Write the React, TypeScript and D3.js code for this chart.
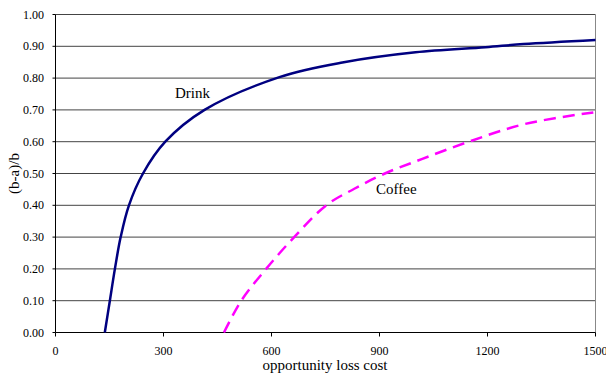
import * as d3 from 'd3';
import React from 'react';

// values
const drinkCost = [137, 151, 165, 181, 204, 243, 305, 414, 622, 797, 1000, 1194, 1300, 1500];
const drinkRatio = [0, 0.1, 0.2, 0.3, 0.4, 0.5, 0.6, 0.7, 0.803, 0.849, 0.881, 0.897, 0.907, 0.92];
const coffeeCost = [468, 516, 585, 663, 752, 830, 915, 1019, 1148, 1305, 1500];
const coffeeRatio = [0, 0.1, 0.2, 0.3, 0.4, 0.452, 0.5, 0.546, 0.6, 0.656, 0.693];
const xTicks = [0, 300, 600, 900, 1200, 1500];
const yTicks = [0, 0.1, 0.2, 0.3, 0.4, 0.5, 0.6, 0.7, 0.8, 0.9, 1.0];

const width = 606,
  height = 374;
const margin = { left: 55.5, right: 10.5, top: 14.5, bottom: 41.5 };

export default function App() {
  const x = d3
    .scaleLinear()
    .domain([0, 1500])
    .range([margin.left, width - margin.right]);
  const y = d3
    .scaleLinear()
    .domain([0, 1])
    .range([height - margin.bottom, margin.top]);

  const line = d3
    .line<[number, number]>()
    .x((d) => x(d[0]))
    .y((d) => y(d[1]))
    .curve(d3.curveCatmullRom.alpha(0.5));

  const drink = drinkCost.map((c, i) => [c, drinkRatio[i]] as [number, number]);
  const coffee = coffeeCost.map((c, i) => [c, coffeeRatio[i]] as [number, number]);

  const font = "'Liberation Serif', 'Times New Roman', 'DejaVu Serif', serif";

  return (
    <svg
      width={width}
      height={height}
      style={{ position: 'absolute', left: 0, top: 0, background: '#fff', fontFamily: font }}
    >
      {/* grid lines */}
      {yTicks.slice(1).map((t) => (
        <line
          key={t}
          x1={x(0)}
          x2={x(1500)}
          y1={y(t)}
          y2={y(t)}
          stroke="#444"
          strokeWidth={1}
        />
      ))}
      {/* right border */}
      <line x1={x(1500)} x2={x(1500)} y1={y(1)} y2={y(0)} stroke="#888" strokeWidth={1} />
      {/* axes */}
      <line x1={x(0)} x2={x(0)} y1={y(1)} y2={y(0)} stroke="#000" strokeWidth={1} />
      <line x1={x(0)} x2={x(1500)} y1={y(0)} y2={y(0)} stroke="#000" strokeWidth={1} />
      {xTicks.map((t) => (
        <g key={t}>
          <line x1={x(t)} x2={x(t)} y1={y(0)} y2={y(0) + 4} stroke="#000" />
          <text x={x(t)} y={355} fontSize={12} textAnchor="middle" fill="#000">
            {t}
          </text>
        </g>
      ))}
      {yTicks.map((t) => (
        <g key={t}>
          <line x1={x(0) - 3} x2={x(0)} y1={y(t)} y2={y(t)} stroke="#000" />
          <text x={44} y={y(t) + 4} fontSize={12} textAnchor="end" fill="#000">
            {t.toFixed(2)}
          </text>
        </g>
      ))}

      {/* series */}
      <path d={line(drink) ?? ''} fill="none" stroke="#000080" strokeWidth={2.5} />
      <path
        d={line(coffee) ?? ''}
        fill="none"
        stroke="#FF00FF"
        strokeWidth={2.5}
        strokeDasharray="12,7"
      />

      <text x={175} y={98} fontSize={15} fill="#000">
        Drink
      </text>
      <text x={376} y={194} fontSize={15} fill="#000">
        Coffee
      </text>

      {/* axis titles */}
      <text x={325} y={370} fontSize={15} textAnchor="middle" fill="#000">
        opportunity loss cost
      </text>
      <text
        transform={`translate(19, ${y(0.5)}) rotate(-90)`}
        fontSize={15}
        textAnchor="middle"
        fill="#000"
      >
        (b-a)/b
      </text>
    </svg>
  );
}
